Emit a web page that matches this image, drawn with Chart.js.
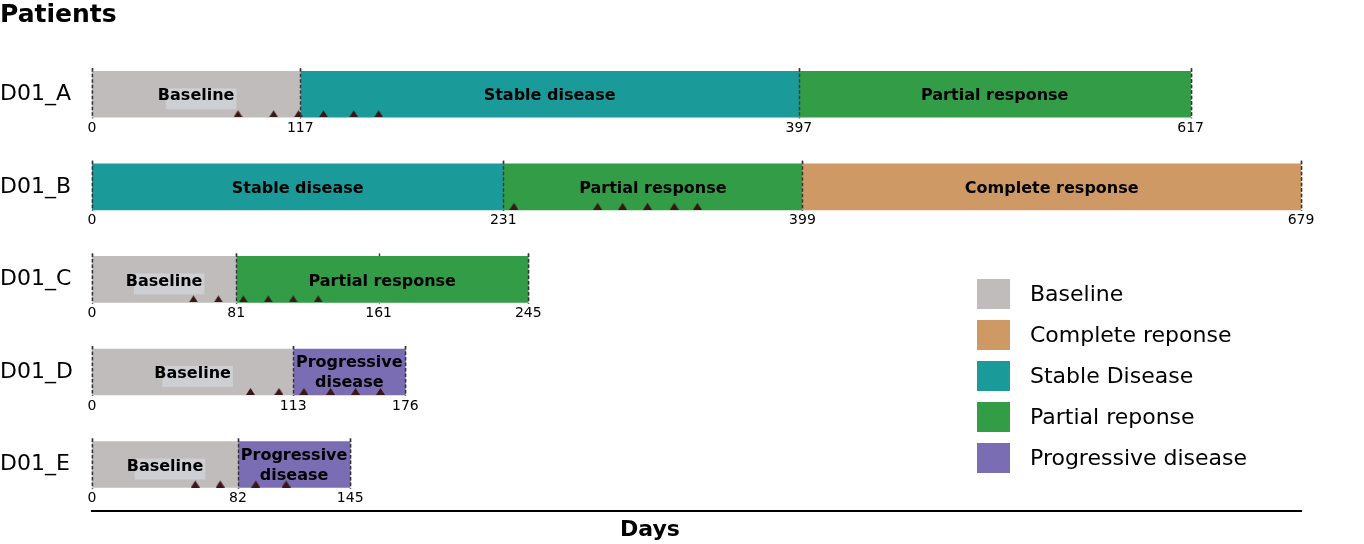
<!DOCTYPE html>
<html>
<head>
<meta charset="utf-8">
<script src="https://cdn.jsdelivr.net/npm/chart.js@4.4.0/dist/chart.umd.min.js"></script>
<style>
  html, body { margin: 0; padding: 0; background: #fff; }
  #wrap { width: 1364px; height: 544px; }
</style>
</head>
<body>
<div id="wrap"><canvas id="timeline" width="1364" height="544"></canvas></div>
<script>
const patients = ['D01_A', 'D01_B', 'D01_C', 'D01_D', 'D01_E'];

// [start day, end day] of each phase per patient, null when absent
const baseline = [[0, 117], null, [0, 81], [0, 113], [0, 82]];
const completeResponse = [null, [399, 679], null, null, null];
const stableDisease = [[117, 397], [0, 231], null, null, null];
const partialResponse = [[397, 617], [231, 399], [81, 245], null, null];
const progressiveDisease = [null, null, null, [113, 176], [82, 145]];

// day labels printed under each bar
const rowTicks = [
    [0, 117, 397, 617],
    [0, 231, 399, 679],
    [0, 81, 161, 245],
    [0, 113, 176],
    [0, 82, 145],
];

// sampling days (triangles)
const sampleDays = [
    [82, 102, 116, 130, 147, 161],
    [237, 284, 298, 312, 327, 340],
    [57, 71, 85, 99, 113, 127],
    [89, 105, 119, 134, 148, 162],
    [58, 72, 92, 109],
];

const legendLabels = ['Baseline', 'Complete reponse', 'Stable Disease', 'Partial reponse', 'Progressive disease'];
const barTexts = ['Baseline', 'Complete response', 'Stable disease', 'Partial response', ['Progressive', 'disease']];
const COLORS = ['#c0bcbc', '#cf9966', '#1a9a99', '#339c47', '#7a6db3'];
const phases = [baseline, completeResponse, stableDisease, partialResponse, progressiveDisease];

const FONT = 'DejaVu Sans';
const xMax = 679;
const BAR_H = 46;

// triangle sitting on the bottom edge of a bar, as a point image centred on the row
function triangleMarker() {
    const c = document.createElement('canvas');
    c.width = 9;
    c.height = BAR_H;
    const g = c.getContext('2d');
    g.fillStyle = '#3a1616';
    g.beginPath();
    g.moveTo(4.5, BAR_H - 7);
    g.lineTo(9, BAR_H);
    g.lineTo(0, BAR_H);
    g.closePath();
    g.fill();
    return c;
}

function rowBox(chart, i) {
    for (let d = 0; d < phases.length; d++) {
        if (phases[d][i]) {
            const el = chart.getDatasetMeta(d + 1).data[i];
            return { top: el.y - el.height / 2, bottom: el.y + el.height / 2, mid: el.y };
        }
    }
    return null;
}

function isBoundary(i, t) {
    return phases.some(p => p[i] && (p[i][0] === t || p[i][1] === t));
}

function drawDashes(chart, onTop) {
    const ctx = chart.ctx;
    const xs = chart.scales.x;
    ctx.save();
    ctx.strokeStyle = '#333';
    ctx.lineWidth = 1.4;
    ctx.setLineDash([3.5, 2]);
    rowTicks.forEach((ticks, i) => {
        const box = rowBox(chart, i);
        ticks.forEach(t => {
            if (onTop && !isBoundary(i, t)) return;
            const x = Math.round(xs.getPixelForValue(t)) + 0.5;
            ctx.beginPath();
            ctx.moveTo(x, box.top - 3);
            ctx.lineTo(x, box.bottom + 1);
            ctx.stroke();
        });
    });
    ctx.restore();
}

const timelinePlugin = {
    id: 'timeline',
    beforeDatasetsDraw(chart) {
        drawDashes(chart, false);
    },
    afterDatasetsDraw(chart) {
        const ctx = chart.ctx;
        const xs = chart.scales.x;
        drawDashes(chart, true);

        // day labels under bars
        ctx.save();
        ctx.fillStyle = '#000';
        ctx.font = '14px "' + FONT + '"';
        ctx.textAlign = 'center';
        ctx.textBaseline = 'top';
        rowTicks.forEach((ticks, i) => {
            const box = rowBox(chart, i);
            ticks.forEach(t => ctx.fillText(String(t), xs.getPixelForValue(t), box.bottom + 4));
        });
        ctx.restore();

        // phase names inside bars
        ctx.save();
        ctx.font = 'bold 16px "' + FONT + '"';
        ctx.textAlign = 'center';
        ctx.textBaseline = 'middle';
        phases.forEach((ranges, d) => {
            const meta = chart.getDatasetMeta(d + 1);
            ranges.forEach((r, i) => {
                if (!r) return;
                const el = meta.data[i];
                const cx = (xs.getPixelForValue(r[0]) + xs.getPixelForValue(r[1])) / 2;
                const text = barTexts[d];
                if (Array.isArray(text)) {
                    ctx.fillStyle = '#000';
                    ctx.fillText(text[0], cx, el.y - 9);
                    ctx.fillText(text[1], cx, el.y + 11);
                } else {
                    if (d === 0) {
                        const w = ctx.measureText(text).width;
                        ctx.fillStyle = 'rgba(206,208,212,0.9)';
                        ctx.fillRect(cx - w / 2 + 8, el.y - 6, w - 6, 21);
                    }
                    ctx.fillStyle = '#000';
                    ctx.fillText(text, cx, el.y + 2);
                }
            });
        });
        ctx.restore();

        // legend
        ctx.save();
        ctx.font = '22px "' + FONT + '"';
        ctx.textBaseline = 'middle';
        ctx.textAlign = 'left';
        legendLabels.forEach((lab, k) => {
            const top = 279 + k * 41;
            ctx.fillStyle = COLORS[k];
            ctx.fillRect(977, top, 33, 30);
            ctx.fillStyle = '#000';
            ctx.fillText(lab, 1030, top + 16);
        });
        ctx.restore();

        // axis title
        ctx.save();
        ctx.font = 'bold 22px "' + FONT + '"';
        ctx.fillStyle = '#000';
        ctx.textAlign = 'center';
        ctx.textBaseline = 'middle';
        ctx.fillText('Days', 650, 530);
        ctx.restore();
    },
};

const datasets = [{
    type: 'scatter',
    label: 'Samples',
    data: sampleDays.flatMap((days, i) => days.map(d => ({ x: d, y: patients[i] }))),
    xAxisID: 'x',
    yAxisID: 'y',
    pointStyle: triangleMarker(),
    order: -1,
}];
phases.forEach((ranges, d) => {
    datasets.push({
        type: 'bar',
        label: legendLabels[d],
        data: ranges,
        backgroundColor: COLORS[d],
        borderWidth: 0,
        barThickness: BAR_H,
        grouped: false,
        yAxisID: 'y',
        order: 1,
    });
});

new Chart(document.getElementById('timeline'), {
    type: 'bar',
    data: { labels: patients, datasets },
    plugins: [timelinePlugin],
    options: {
        indexAxis: 'y',
        responsive: false,
        animation: false,
        layout: { padding: { left: 0, right: 63, top: 0, bottom: 31 } },
        plugins: {
            legend: { display: false },
            tooltip: { enabled: false },
            title: {
                display: true,
                text: 'Patients',
                align: 'start',
                color: '#000',
                font: { family: FONT, size: 25, weight: 'bold', lineHeight: 1.2 },
                padding: { top: 0, bottom: 18 },
            },
        },
        scales: {
            x: {
                type: 'linear',
                min: 0,
                max: xMax,
                grid: { display: false, drawTicks: false },
                ticks: { display: false },
                border: { display: true, color: '#000', width: 2 },
            },
            y: {
                type: 'category',
                grid: { display: false, drawTicks: false },
                border: { display: false },
                ticks: { padding: 20, crossAlign: 'far', color: '#000', font: { family: FONT, size: 22 } },
                afterFit(scale) { scale.width = 92; },
            },
        },
    },
});
</script>
</body>
</html>
